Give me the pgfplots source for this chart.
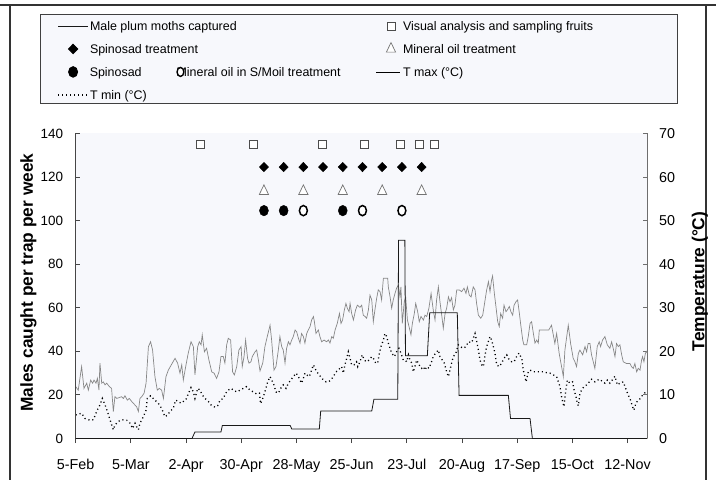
\documentclass[border=0pt]{standalone}
\usepackage{pgfplots}
\pgfplotsset{compat=1.18}
\usepackage{fontspec}
\setmainfont{Liberation Sans}
\definecolor{bgc}{RGB}{247,248,252}
\definecolor{axc}{RGB}{70,70,70}
\definecolor{axr}{RGB}{110,110,110}
\definecolor{tmaxc}{RGB}{135,135,135}
\pgfplotsset{
  imgLineA/.style={legend image code/.code={\path[draw=none,fill=none] (0bp,0bp) -- (30bp,0bp); \draw[##1] (0bp,-1.2bp) -- (30bp,-1.2bp);}},
  imgLineB/.style={legend image code/.code={\path[draw=none,fill=none] (0bp,0bp) -- (28bp,0bp); \draw[##1] (2bp,-1.2bp) -- (26bp,-1.2bp);}},
  imgMarkA/.style={legend image code/.code={\path[draw=none,fill=none] (0bp,0bp) -- (30bp,0bp); \draw[##1] plot coordinates {(15bp,-1.2bp)};}},
  imgMarkB/.style={legend image code/.code={\path[draw=none,fill=none] (0bp,0bp) -- (28bp,0bp); \draw[##1] plot coordinates {(17bp,-1.2bp)};}},
  tminstyle/.style={black, line width=1.3bp, dash pattern=on 1.1bp off 2.9bp},
}
\begin{document}
\begin{tikzpicture}
\path[use as bounding box] (0bp,0bp) rectangle (716bp,480bp);
\draw[line width=1.4bp, black!80] (0bp,475bp) -- (716bp,475bp);
\draw[line width=1.4bp, black!80] (10bp,475bp) -- (10bp,0bp);
\draw[line width=1.4bp, black!80] (706bp,475bp) -- (706bp,0bp);
% ---------------- right axis: temperatures ----------------
\begin{axis}[
  at={(75.7bp,41.5bp)}, anchor=south west,
  scale only axis, width=571.6bp, height=305bp,
  xmin=0, xmax=290, ymin=0, ymax=70,
  axis x line=none, axis y line*=right,
  axis background/.style={fill=bgc},
  ytick={0,10,...,70},
  tick align=inside, major tick length=4.7bp,
  y axis line style={draw=axr, line width=0.9bp},
  ytick style={draw=axr, line width=0.9bp},
  /pgf/number format/assume math mode=true,
  yticklabel style={font=\fontsize{14.4}{16}\selectfont, inner sep=0pt, anchor=west, xshift=11.7bp},
  ylabel={Temperature (°C)},
  every axis y label/.style={at={(axis description cs:1.0922,0.5148)}, rotate=90, anchor=center, font=\bfseries\fontsize{17.4}{20}\selectfont},
]
\addplot[tmaxc, line width=0.7bp] coordinates {
(0,11.9) (1.3,11.1) (3,16.5) (4.2,11.5) (5.6,12.7) (6.4,11.1) (7.6,13.4) (8.6,12.7) (9.3,13.4) (10.3,12.7) (11,13.8) (11.8,11.1) (12.3,17.3) (13.2,12.7) (14,13) (14.9,12.3) (15.7,12.7) (17.1,11.9) (18.2,11.5) (19.1,6.2) (19.9,9.6) (20.8,9.2) (22.1,9.4) (23.3,9.6) (24.2,9.2) (25,9.8) (26.2,8.8) (27.2,9.2) (28.4,8.5) (29.2,8.1) (30.9,7.3) (31.8,6.2) (32.6,9.2) (33.5,9.6) (34.7,10.4) (35.7,12.7) (36.9,21.1) (38,22.2) (39,20.3) (40.2,14.2) (41.4,11.1) (42.4,11.5) (43.6,11.1) (44.5,9.2) (45.8,14.2) (47,15.7) (49,17.3) (50.4,18.4) (51.7,17.3) (52.9,15) (53.8,16.9) (54.6,13.4) (55.8,16.5) (57.1,19.6) (58.5,22.2) (59.7,21.1) (60.5,14.6) (61.9,21.1) (62.7,22.2) (63.6,21.5) (64.2,23.8) (65.3,19.9) (66.4,20.7) (67.6,18) (69,15.3) (70.2,15) (71.5,13.8) (72.7,15.3) (73.7,18.8) (74.9,18.8) (75.7,17.3) (76.6,21.5) (77.4,23) (78.6,22.6) (79.6,15.3) (80.5,14.6) (81.7,16.5) (82.8,20.3) (83.9,21.1) (84.5,16.5) (85.4,18.8) (86.2,22.6) (87.2,18.4) (87.9,17.3) (88.9,17.6) (89.6,18.8) (91,19.9) (91.8,20.3) (92.7,18) (93.5,15.5) (94.9,17.3) (96,21.1) (97.2,23.4) (98.6,26) (99.4,22.6) (100.6,15.7) (101.6,16.5) (102.8,20.3) (103.6,23.4) (104.5,21.1) (105.3,20.3) (106.2,17.3) (107,20.7) (107.9,22.2) (108.7,21.5) (109.6,22.6) (110.4,23.4) (111.3,24.9) (112.1,24.5) (113,23) (113.8,21.9) (114.6,24.1) (115.5,23.4) (116.3,21.9) (117.2,24.1) (118,24.9) (118.9,25.7) (119.7,27.2) (120.6,28) (121.1,26.8) (121.9,24.1) (123.1,24.9) (123.9,23.4) (124.8,22.2) (126,22.6) (127.3,22.2) (128.2,22.6) (129,21.9) (129.9,23.4) (130.7,23) (131.6,24.9) (132.7,26.4) (133.8,28.7) (134.6,26.4) (135.4,27.2) (136.3,29.5) (137.1,31) (137.8,29.9) (138.7,29.1) (139.2,31) (140,28.7) (140.9,27.2) (142,29.5) (142.9,30.6) (144.2,30.1) (145.1,30.6) (145.9,28.3) (146.8,28) (147.6,27.6) (148.5,29.5) (149.3,32.9) (150.2,31.8) (151,26.8) (151.8,29.5) (152.7,32.2) (153.5,34.1) (154.4,33.7) (155.2,31.8) (156.1,36.8) (158.3,36.8) (158.6,34.8) (159.5,32.5) (160.3,29.9) (161.1,31.8) (162,33.3) (162.8,34.5) (163.7,35.2) (164.5,32.5) (165,34.8) (165.7,26.4) (166.7,31.4) (167.4,32.5) (168.3,27.2) (169.1,25.7) (170.1,23.8) (170.8,26.4) (171.8,28.7) (172.5,31) (173.5,29.1) (174.3,26.8) (175.2,28) (176.4,27.2) (177.2,28.3) (178.1,28) (179.2,29.9) (180.3,33.3) (181.4,29.5) (182.3,27.2) (183.1,31.8) (184,34.8) (184.8,31.4) (185.7,28.3) (186.5,25.3) (187.4,28.7) (188.2,29.9) (189.1,32.5) (189.9,31.4) (190.7,32.3) (191.6,29.5) (192.4,30.6) (193.3,34.1) (194.6,34.1) (195.8,33.7) (197,34.5) (198,33.3) (198.7,34.8) (199.7,32.9) (200.6,32.5) (201.7,34.8) (202.6,34.1) (203.4,31) (204.3,28.3) (205.5,27.6) (206.5,28.3) (207.7,31.8) (208.5,34.1) (209.4,36) (210.2,33.7) (211,36.4) (211.5,37.3) (212.4,33.3) (213.2,30.3) (214.1,26.8) (214.9,25.7) (215.6,28.7) (216.6,27.6) (217.3,30.6) (218.3,29.1) (219,29.5) (220,30.3) (220.8,29.1) (221.7,28.3) (222.4,30.6) (223.4,31.4) (224.2,31.8) (225.1,28.7) (225.9,25.7) (226.8,22.6) (227.4,21.5) (228.8,21.5) (229.6,23.4) (230.5,26.4) (231.3,26.8) (232.2,24.1) (233,21.9) (233.9,22.6) (234.7,21.9) (235.2,24.9) (240,24.9) (241.4,26) (243.1,21.8) (244,24.1) (245.3,19.5) (246.5,16.5) (247.4,14.2) (248.2,20.3) (249.9,26) (251.1,21.8) (252.4,18.4) (253.3,17.6) (254.1,16.5) (255,19.5) (255.8,20.3) (257.2,19.2) (258.4,21.1) (259.2,19.9) (260,21.8) (260.9,21.8) (261.7,19.2) (263.4,16.1) (264.6,21.1) (265.6,22.2) (266.3,21.1) (267.3,22.6) (268.5,23.4) (269.7,21.5) (271,20.7) (271.9,22.2) (272.7,20.7) (273.6,18.8) (274.4,21.8) (275.3,21.1) (276.1,21.5) (277,19.2) (277.8,17.6) (279.5,17.2) (281.2,17.2) (282,16.5) (282.9,16.1) (283.7,17.2) (284.6,15.3) (285.4,16.1) (286.3,15.7) (287.1,18) (287.6,18.8) (288.3,17.6) (289,19.5) (289.6,20) (290,19.6)
};
\addplot[tminstyle] coordinates {
(0,5.4) (1.5,5.6) (3,5.8) (4.7,4.6) (7.3,4.2) (9,4.3) (10.6,6.2) (12.3,7.7) (13.5,9.2) (14.9,7.7) (16.1,6.2) (17.4,4.3) (19.1,2) (19.9,3.1) (21.6,3.9) (23.3,4.3) (25.9,4.2) (27.6,3.5) (28.9,2.3) (30.1,3.5) (30.9,2.7) (31.8,2) (32.6,3.5) (34.3,5) (35.7,6.5) (36.3,9.2) (38,9.8) (40.2,8.8) (41.9,8.1) (43.6,6.9) (45.3,5) (46.7,5.4) (47.8,6.2) (49.5,6.9) (50.7,8.8) (52.1,8.5) (53.4,8.1) (54.6,8.5) (55.8,8.8) (57.1,10.2) (58.5,11.7) (59.7,10.7) (60.5,9.2) (61.9,11.5) (63.1,11.1) (64.2,10) (65.6,9.2) (67.3,8.5) (69,7.5) (70.7,7.2) (72,7.5) (73.2,8.8) (74.9,9.2) (76.1,10.4) (77.4,11.1) (78.8,11.5) (80,11.1) (81.7,10.7) (83.4,11.1) (85,11.5) (86.7,11.9) (88.4,11.1) (90.1,10.7) (91.8,10.2) (93.2,10.4) (93.8,8) (94.9,9.2) (96,10.7) (97.2,12.7) (98.6,14.2) (99.4,13.4) (100.3,12.7) (101.6,10.7) (102.8,10.4) (104,11.5) (105.3,12.3) (106.7,11.5) (107.9,12.7) (109.1,13.4) (110.4,14.2) (111.8,15) (113,14.2) (113.8,13.4) (114.6,12.7) (115.5,13.8) (116.3,15) (117.2,14.6) (118.5,14.2) (119.7,15.7) (120.6,16.9) (121.4,16.1) (122.3,15.3) (123.6,14.6) (124.8,13.8) (126,13.4) (127,13) (128.2,13) (129.4,13.4) (130.7,14.2) (132.1,15.3) (133.2,15.7) (134.9,16.5) (135.8,15) (136.6,16.9) (137.5,18.4) (138.3,19.9) (139.2,18.4) (140,16.9) (141.2,16.9) (142.5,17.6) (143.1,16.5) (144.2,17.6) (145.4,19.2) (146.4,18) (147.6,17.6) (148.8,18) (150.2,18.8) (151,18.4) (152.2,17.3) (153.2,17.3) (153.9,19.2) (154.9,21.1) (156.1,22.6) (156.9,24.1) (157.8,23.4) (158.6,21.9) (159.5,20.7) (160.3,19.6) (161.7,18.8) (162.8,19.9) (164,20.7) (165,19.6) (166.2,18) (167.1,18) (167.9,17.6) (168.8,19.2) (169.6,18) (170.5,17.3) (171.3,15.3) (172.1,16.5) (173,18) (173.8,17.3) (174.7,16.5) (175.5,16.1) (176.4,16.5) (177.2,15.7) (178.1,16.5) (179.2,16.1) (180.3,17.3) (181.4,18.8) (182.6,19.6) (184,20.3) (184.8,18.8) (186,18) (187,17.3) (188.2,15.3) (189.1,14.2) (189.9,15.7) (190.7,17.3) (191.6,18.8) (192.9,19.6) (194.1,21.5) (195,21.1) (196.7,20.7) (198,21.1) (199.2,22.2) (200.9,22) (202.6,24.1) (203.4,22.4) (204.3,20.3) (205.1,18) (206,16.9) (206.8,16.5) (207.7,19.2) (208.5,21.1) (210.2,23.4) (211,22.6) (211.9,21.1) (212.7,19.6) (213.6,16.9) (214.9,16.5) (216.1,17.3) (217.3,18.4) (218.7,19.2) (220,18) (221.2,17.6) (222.4,17.6) (223.7,18.8) (224.9,19.6) (225.8,18.8) (226.3,18.4) (227.1,15.7) (227.9,14.2) (228.5,13) (229.6,15.3) (230.5,15.7) (232.2,15.3) (233.9,15.3) (235.6,15.3) (237.3,15.3) (239,15.1) (240.6,15) (242.3,14.6) (244,14.2) (245.7,11.9) (246.5,9.6) (247.7,7.3) (248.7,11.1) (249.4,13.4) (250.7,12.7) (252.1,13) (252.9,11.1) (253.8,9.6) (254.5,8.1) (255,7.5) (255.8,10.4) (256.7,11.1) (257.8,11.9) (259.2,12.3) (260.6,13) (261.7,13.6) (263.4,13) (264.6,13.4) (266,13.6) (267.3,13) (268.5,12.7) (269.7,13.4) (271,12.7) (272.2,13.4) (273.6,14.3) (274.8,12.3) (276.1,12.7) (277.8,13) (279.2,11.3) (280.3,10) (281.5,8.8) (282.5,7.3) (283.2,6.5) (284.2,8.1) (285.4,8.8) (286.6,9.2) (287.6,10) (288.8,10.5) (289.6,11.1)
};
\end{axis}
% ---------------- left axis: moths and treatments ----------------
\begin{axis}[
  at={(75.7bp,41.5bp)}, anchor=south west,
  scale only axis, width=571.6bp, height=305bp,
  xmin=0, xmax=290, ymin=0, ymax=140,
  axis x line*=bottom, axis y line*=left,
  xtick={0,28,...,280},
  xticklabels={5-Feb,5-Mar,2-Apr,30-Apr,28-May,25-Jun,23-Jul,20-Aug,17-Sep,15-Oct,12-Nov},
  ytick={0,20,...,140},
  tick align=inside, major tick length=4.7bp,
  x axis line style={draw=axc, line width=0.9bp},
  y axis line style={draw=axc, line width=0.9bp},
  xtick style={draw=axc, line width=0.9bp, yshift=-4.7bp},
  ytick style={draw=axc, line width=0.9bp},
  /pgf/number format/assume math mode=true,
  yticklabel style={font=\fontsize{13.5}{15}\selectfont, inner sep=0pt, anchor=east, xshift=-12.4bp},
  xticklabel style={font=\fontsize{14.4}{16}\selectfont, inner sep=0pt, anchor=north, yshift=-20.8bp},
  ylabel={Males caught per trap per week},
  every axis y label/.style={at={(axis description cs:-0.0826,0.5115)}, rotate=90, anchor=center, font=\bfseries\fontsize{17.4}{20}\selectfont},
  legend columns=2,
  legend cell align=left,
  legend style={at={(-0.06246,1.39082)}, anchor=north west,
    draw=black!75, line width=0.9bp, fill=bgc,
    font=\fontsize{12.5}{14}\selectfont,
    inner xsep=17bp, inner ysep=2bp, row sep=7bp,
    nodes={inner xsep=1bp, inner ysep=0pt, text height=13.7bp, text depth=2.3bp},
    /tikz/every odd column/.append style={column sep=0pt},
    /tikz/every even column/.append style={column sep=0pt}},
]
\addplot[black!90, line width=0.8bp, imgLineA]
coordinates {(0,0) (59,0) (60.5,3) (73.7,3) (74.4,6) (108.8,6) (109.6,4.4) (123.6,4.4) (124.3,12.6) (150.2,12.6) (151.3,18) (163.4,18) (163.8,91) (167,91) (167.3,38) (178.4,38) (179.6,57.7) (193.6,57.7) (194.5,19.8) (219.5,19.8) (220.6,9.2) (230.5,9.2) (231.7,0) (290,0)};
\addlegendentry{\makebox[283bp][l]{Male plum moths captured}}
\addplot[only marks, mark=square*, mark size=4bp, mark options={fill=white, draw=black!70, line width=0.8bp}, imgMarkB]
coordinates {(63.4,135) (90.1,135) (125.3,135) (146.3,135) (164.5,135) (174.3,135) (181.8,135)};
\addlegendentry{\makebox[256bp][l]{Visual analysis and sampling fruits}}
\addplot[only marks, mark=diamond*, mark size=4.7bp, mark options={fill=black, draw=black, xscale=1.3}, imgMarkA]
coordinates {(95.5,124.6) (105.5,124.6) (115.5,124.6) (125.5,124.6) (135.5,124.6) (145.5,124.6) (155.5,124.6) (165.5,124.6) (175.5,124.6)};
\addlegendentry{\makebox[283bp][l]{Spinosad treatment}}
\addplot[only marks, mark=triangle*, mark size=5.3bp, mark options={fill=white, draw=black!55, line width=0.7bp, yscale=1.2}, imgMarkB]
coordinates {(95.5,113.5) (115.5,113.5) (135.5,113.5) (155.5,113.5) (175.5,113.5)};
\addlegendentry{\makebox[256bp][l]{Mineral oil treatment}}
\addplot[only marks, mark=*, mark size=5.3bp, mark options={fill=black, draw=black, xscale=0.85}, imgMarkA]
coordinates {(95.5,104.6) (105.5,104.6) (135.5,104.6)};
\addlegendentry{\makebox[283bp][l]{Spinosad\hspace{34.9bp}M\llap{\tikz[baseline=-4.5bp]\draw[black,line width=1.4bp,fill=white] (0bp,0bp) ellipse [x radius=3.4bp, y radius=4.5bp];\hspace{2.4bp}}ineral oil in S/Moil treatment}}
\addplot[only marks, mark=*, mark size=5.1bp, mark options={fill=white, draw=black, line width=1.5bp, xscale=0.78}, forget plot]
coordinates {(115.5,104.6) (145.5,104.6) (165.5,104.6)};
\addlegendimage{black, line width=0.8bp, imgLineB}
\addlegendentry{\makebox[256bp][l]{T max (°C)}}
\addlegendimage{tminstyle, imgLineA}
\addlegendentry{\makebox[283bp][l]{T min (°C)}}
\end{axis}
\end{tikzpicture}
\end{document}
